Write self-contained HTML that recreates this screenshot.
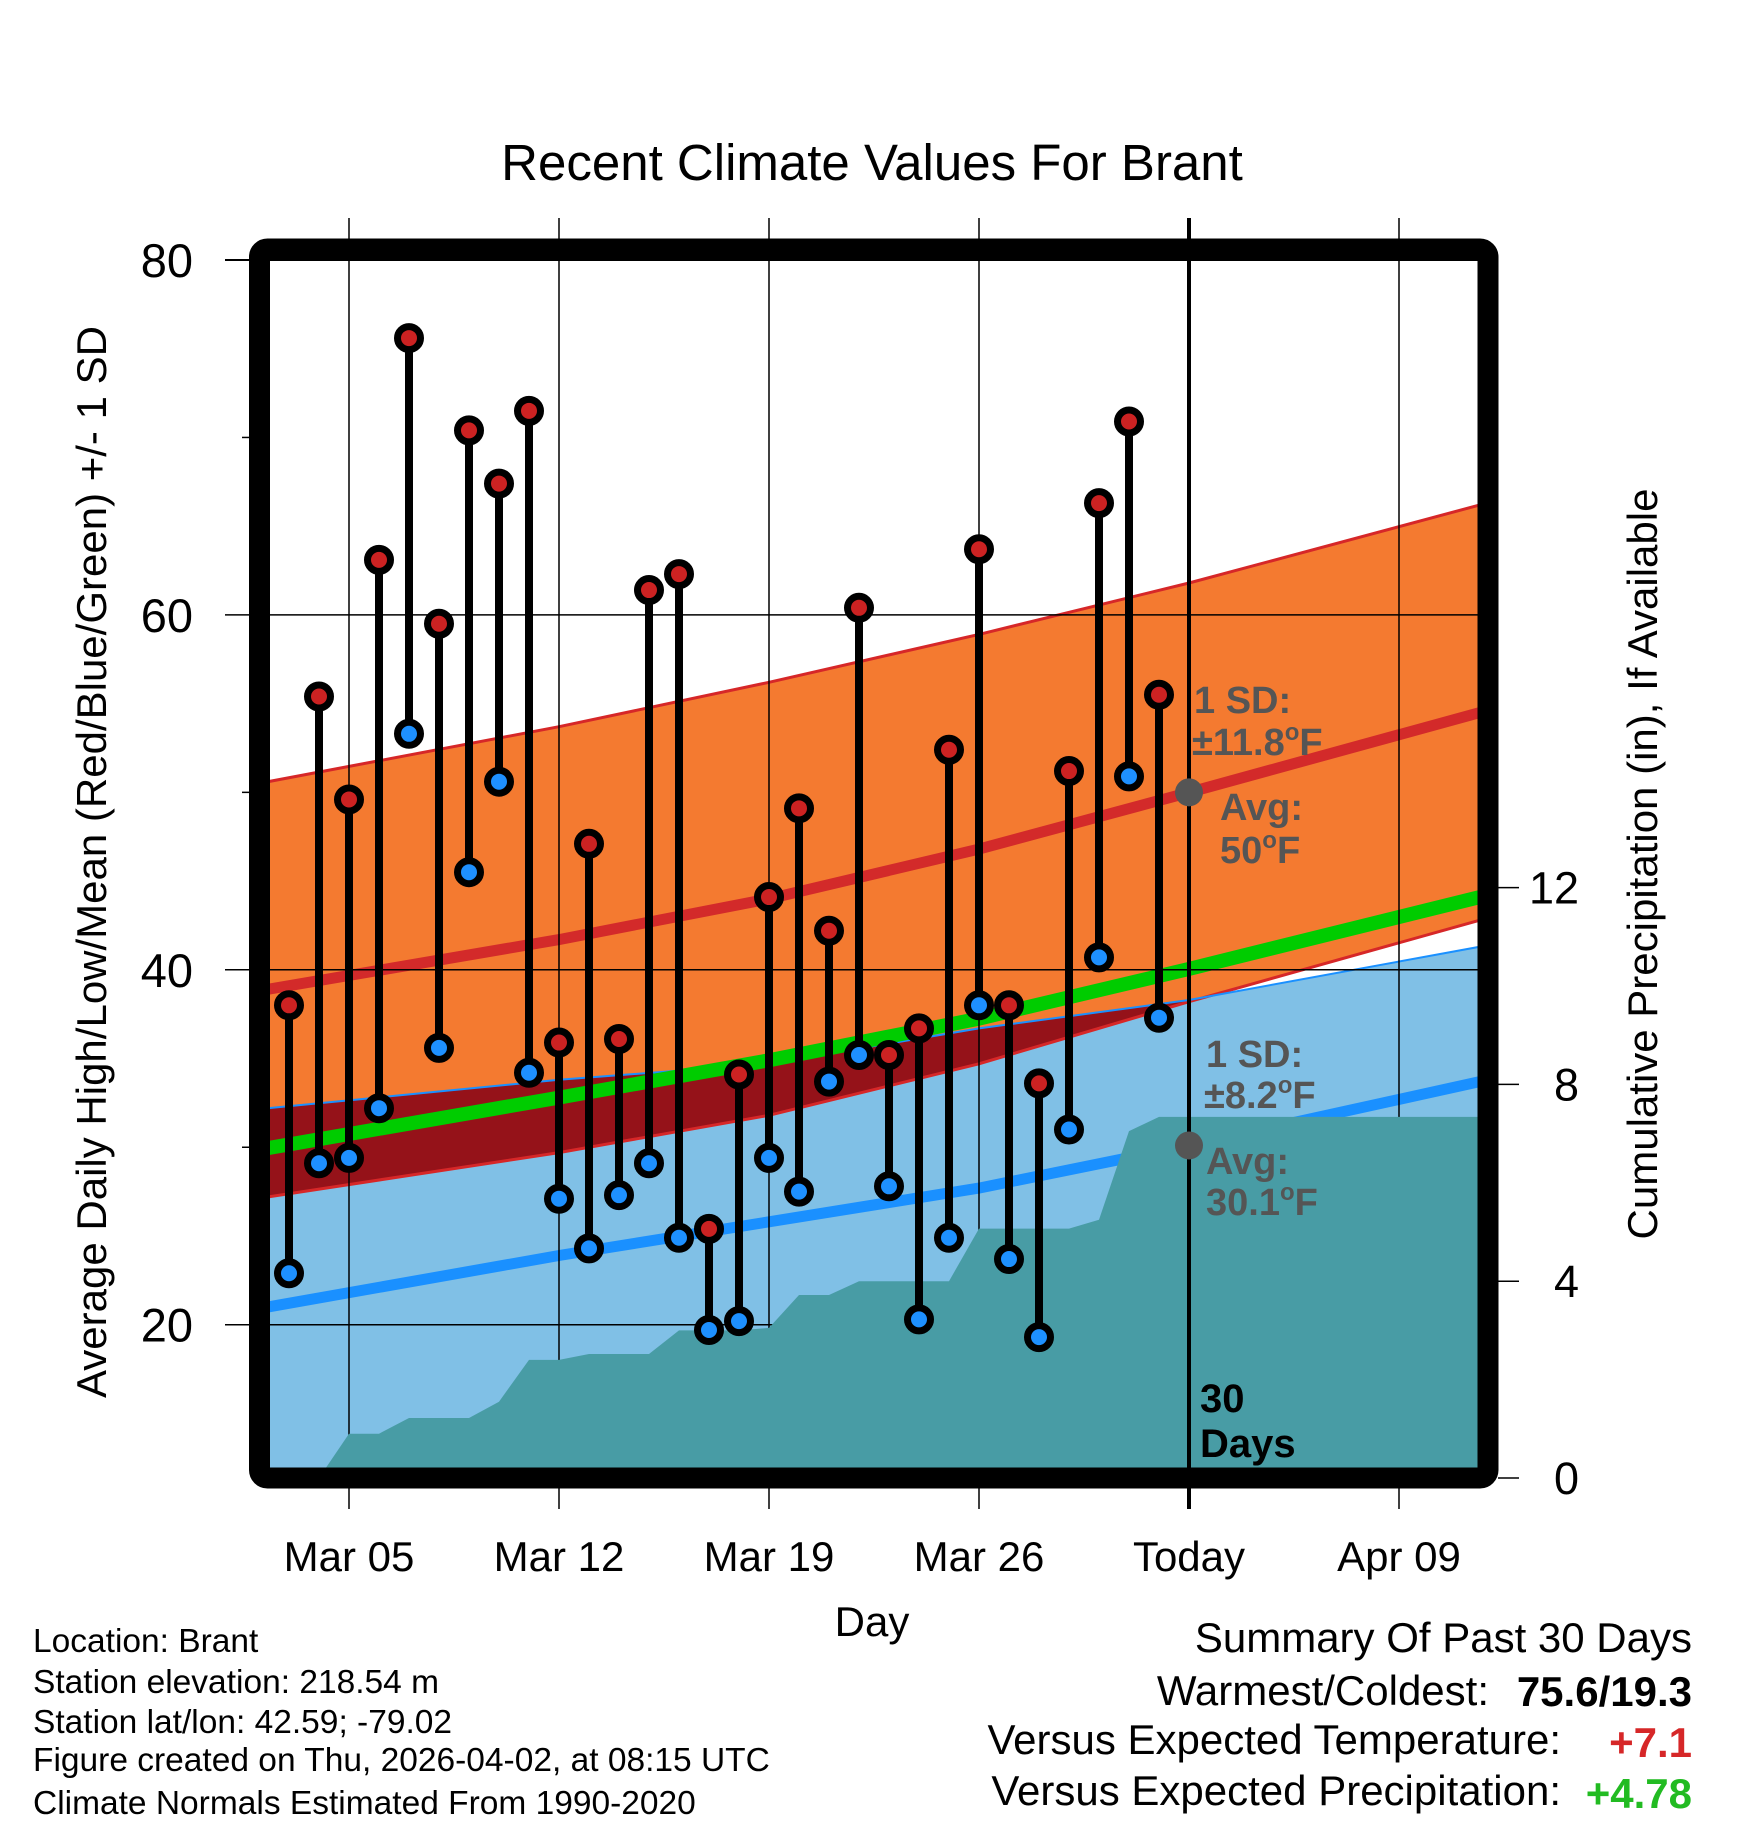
<!DOCTYPE html>
<html><head><meta charset="utf-8"><style>
body{margin:0;background:#fff}
svg{display:block;font-family:"Liberation Sans",sans-serif}
</style></head><body>
<svg id="chart" width="1748" height="1828" viewBox="0 0 1748 1828">
<defs>
<clipPath id="plotClip"><rect x="270" y="260" width="1208" height="1208"/></clipPath>
</defs>
<g id="bands" clip-path="url(#plotClip)"></g>
<g id="grid"></g>
<g id="precip" clip-path="url(#plotClip)"></g>
<g id="todayg"></g>
<g id="marks"></g>
<g id="annot"></g>
<g id="axes"></g>
</svg>
<script>
const days = [3,4,5,6,7,8,9,10,11,12,13,14,15,16,17,18,19,20,21,22,23,24,25,26,27,28,29,30,31,32];
const highs = [38.0,55.4,49.6,63.1,75.6,59.5,70.4,67.4,71.5,35.9,47.1,36.1,61.4,62.3,25.4,34.1,44.1,49.1,42.2,60.4,35.2,36.7,52.4,63.7,38.0,33.6,51.2,66.3,70.9,55.5];
const lows = [22.9,29.1,29.4,32.2,53.3,35.6,45.5,50.6,34.2,27.1,24.3,27.3,29.1,24.9,19.7,20.2,29.4,27.5,33.7,35.2,27.8,20.3,24.9,38.0,23.7,19.3,31.0,40.7,50.9,37.3];
const precipCum = [0,0,0.9,0.9,1.22,1.22,1.22,1.55,2.4,2.4,2.52,2.52,2.52,3.0,3.0,3.0,3.05,3.72,3.72,4.0,4.0,4.0,4.0,5.07,5.07,5.07,5.07,5.25,7.05,7.34];
const normDays = [2.3,12,19,26,33,42.7];
const normHigh = [38.9,41.7,44.0,46.8,50.0,54.5];
const normHighSD = [11.7,12.0,12.2,12.1,11.8,11.7];
const normLow = [21.0,23.9,25.8,27.7,30.1,33.7];
const normLowSD = [11.2,9.9,8.9,9.0,8.2,7.6];
const tempTicks = [80,60,40,20];
const tempMinor = [70,50,30];
const precipTicks = [0,4,8,12];
const xTickDays = [5,12,19,26,33,40];
const xTickLabels = ["Mar 05","Mar 12","Mar 19","Mar 26","Today","Apr 09"];
const todayDay = 33;

const NS="http://www.w3.org/2000/svg";
const X = d => 229 + 30*(d-1);
const Y = t => 260 + (80-t)*17.745;
const P = p => 1478 - p*49.2;
function mk(tag, attrs, parent){const e=document.createElementNS(NS,tag);for(const k in attrs)e.setAttribute(k,attrs[k]);parent.appendChild(e);return e;}
const bands=document.getElementById('bands'),grid=document.getElementById('grid'),precip=document.getElementById('precip'),marks=document.getElementById('marks'),annot=document.getElementById('annot'),axes=document.getElementById('axes'),todayg=document.getElementById('todayg');
const pts = (arr)=>arr.map(p=>p[0].toFixed(1)+','+p[1].toFixed(1)).join(' ');
const hiTop=normDays.map((d,i)=>[X(d),Y(normHigh[i]+normHighSD[i])]);
const hiBot=normDays.map((d,i)=>[X(d),Y(normHigh[i]-normHighSD[i])]);
const loTop=normDays.map((d,i)=>[X(d),Y(normLow[i]+normLowSD[i])]);
const loBand=loTop.concat([[X(42.7),1500],[X(2.3),1500]]);
const hiBand=hiTop.concat(hiBot.slice().reverse());
let e;
e=mk('polygon',{points:pts(loBand),fill:'#80c0e6'},bands);


e=mk('polygon',{points:pts(hiBand),fill:'#f47a30'},bands);


const cp=mk('clipPath',{id:'loClip'},document.querySelector('defs'));
mk('polygon',{points:pts(loBand)},cp);
e=mk('polygon',{points:pts(hiBand),fill:'#951219','clip-path':'url(#loClip)'},bands);


e=mk('polyline',{points:pts(hiTop),fill:'none',stroke:'#d62728','stroke-width':3},bands);


e=mk('polyline',{points:pts(hiBot),fill:'none',stroke:'#d62728','stroke-width':3},bands);


e=mk('polyline',{points:pts(loTop),fill:'none',stroke:'#1a90ff','stroke-width':2},bands);


e=mk('polyline',{points:pts(normDays.map((d,i)=>[X(d),Y(normHigh[i])])),fill:'none',stroke:'#d32a2a','stroke-width':11},bands);


e=mk('polyline',{points:pts(normDays.map((d,i)=>[X(d),Y((normHigh[i]+normLow[i])/2)])),fill:'none',stroke:'#00cc00','stroke-width':14},bands);


e=mk('polyline',{points:pts(normDays.map((d,i)=>[X(d),Y(normLow[i])])),fill:'none',stroke:'#1a90ff','stroke-width':11},bands);



tempTicks.forEach(t=>{
  e=mk('line',{x1:225,x2:1478,y1:Y(t),y2:Y(t),stroke:'#000','stroke-width':t===80?2:1.5},grid);
  
  
});
tempMinor.forEach(t=>{mk('line',{x1:242,x2:250,y1:Y(t),y2:Y(t),stroke:'#000','stroke-width':1.5},grid);});
xTickDays.forEach(d=>{
  if(d===todayDay) return;
  e=mk('line',{x1:X(d),x2:X(d),y1:218,y2:1509,stroke:'#000','stroke-width':1.5},grid);
  
  
});

const pp=[[250,P(0)],[X(days[0]),P(precipCum[0])]];
days.forEach((d,i)=>pp.push([X(d),P(precipCum[i])]));
pp.push([1500,P(precipCum[precipCum.length-1])],[1500,1500],[250,1500]);
e=mk('polygon',{points:pts(pp),fill:'#489ca5'},precip);



e=mk('line',{x1:X(todayDay),x2:X(todayDay),y1:218,y2:1509,stroke:'#000','stroke-width':4},todayg);



days.forEach((d,i)=>{
  e=mk('line',{x1:X(d),x2:X(d),y1:Y(highs[i]),y2:Y(lows[i]),stroke:'#000','stroke-width':8},marks);
  
  
});
days.forEach((d,i)=>{
  e=mk('circle',{cx:X(d),cy:Y(highs[i]),r:11.5,fill:'#cc2222',stroke:'#000','stroke-width':7},marks);
  
  
  e=mk('circle',{cx:X(d),cy:Y(lows[i]),r:11.5,fill:'#1e90ff',stroke:'#000','stroke-width':7},marks);
  
  
});
const ti=normDays.indexOf(todayDay);
e=mk('circle',{cx:X(todayDay),cy:Y(normHigh[ti]),r:14,fill:'#555'},annot);


e=mk('circle',{cx:X(todayDay),cy:Y(normLow[ti]),r:14,fill:'#555'},annot);



e=mk('rect',{x:259.5,y:249,width:1228.5,height:1229,rx:8,fill:'none',stroke:'#000','stroke-width':21},axes);


tempTicks.forEach(t=>{
  e=mk('text',{x:193,y:Y(t)+17,'text-anchor':'end','font-size':47},axes);e.textContent=t;
  
  
});
precipTicks.forEach(p=>{
  mk('line',{x1:1498,x2:1519,y1:P(p),y2:P(p),stroke:'#000','stroke-width':1.5},axes);
  e=mk('text',{x:1579,y:P(p)+16,'text-anchor':'end','font-size':45},axes);e.textContent=p;
  
  
});
xTickDays.forEach((d,i)=>{
  e=mk('text',{x:X(d),y:1571,'text-anchor':'middle','font-size':42},axes);e.textContent=xTickLabels[i];
  
  
});
</script>
<script>
const s=document.getElementById('chart');
s.insertAdjacentHTML('beforeend',`
<text x="872" y="180" text-anchor="middle" font-size="51">Recent Climate Values For Brant</text>
<text transform="translate(106,862) rotate(-90)" text-anchor="middle" font-size="42">Average Daily High/Low/Mean (Red/Blue/Green) +/- 1 SD</text>
<text transform="translate(1657,864) rotate(-90)" text-anchor="middle" font-size="42">Cumulative Precipitation (in), If Available</text>
<text x="872" y="1636" text-anchor="middle" font-size="42">Day</text>
<g fill="#555" font-weight="bold" font-size="38">
<text x="1194" y="713">1 SD:</text><text x="1192" y="755">±11.8<tspan font-size="24" dy="-15">o</tspan><tspan dy="15">F</tspan></text>
<text x="1220" y="820">Avg:</text><text x="1220" y="863">50<tspan font-size="24" dy="-15">o</tspan><tspan dy="15">F</tspan></text>
</g>
<g fill="#555" font-weight="bold" font-size="38">
<text x="1206" y="1067">1 SD:</text><text x="1204" y="1108">±8.2<tspan font-size="24" dy="-15">o</tspan><tspan dy="15">F</tspan></text>
<text x="1206" y="1174">Avg:</text><text x="1206" y="1215">30.1<tspan font-size="24" dy="-15">o</tspan><tspan dy="15">F</tspan></text>
</g>
<g font-weight="bold" font-size="40">
<text x="1200" y="1412">30</text><text x="1200" y="1457">Days</text>
</g>
<g font-size="33.5">
<text x="33" y="1652">Location: Brant</text>
<text x="33" y="1693">Station elevation: 218.54 m</text>
<text x="33" y="1733">Station lat/lon: 42.59; -79.02</text>
<text x="33" y="1771">Figure created on Thu, 2026-04-02, at 08:15 UTC</text>
<text x="33" y="1814">Climate Normals Estimated From 1990-2020</text>
</g>
<g font-size="42">
<text x="1692" y="1652" text-anchor="end">Summary Of Past 30 Days</text>
<text x="1489" y="1705" text-anchor="end">Warmest/Coldest:</text>
<text x="1692" y="1706" text-anchor="end" font-weight="bold">75.6/19.3</text>
<text x="1561" y="1754" text-anchor="end">Versus Expected Temperature:</text>
<text x="1692" y="1757" text-anchor="end" font-weight="bold" fill="#d62728">+7.1</text>
<text x="1561" y="1805" text-anchor="end">Versus Expected Precipitation:</text>
<text x="1692" y="1808" text-anchor="end" font-weight="bold" fill="#22bb22">+4.78</text>
</g>`);
</script>
</body></html>
